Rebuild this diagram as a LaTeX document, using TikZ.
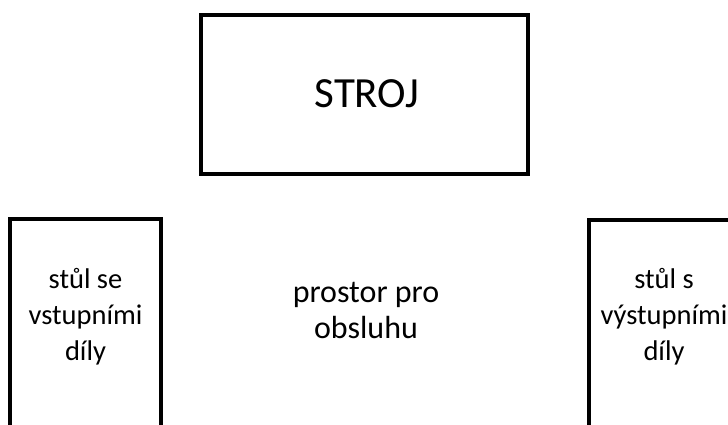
\documentclass[tikz,border=0pt]{standalone}
\usepackage{fontspec}
\setmainfont{Carlito}
\begin{document}
\begin{tikzpicture}[x=1pt,y=-1pt,
  frame/.style={draw=black,line width=3.6pt},
  small/.style={font=\fontsize{28.5}{36}\selectfont,align=center,inner sep=0pt},
  mid/.style={font=\fontsize{32}{36}\selectfont,align=center,inner sep=0pt},
  big/.style={font=\fontsize{43}{50}\selectfont,inner sep=0pt}]
\useasboundingbox (0,0) rectangle (728,425);
\clip (0,0) rectangle (728,425);
\draw[frame] (201,15) rectangle (528,174);
\node[big] (stroj) at (367,94) {STROJ};
\draw[frame] (10,440) -- (10,219) -- (161,219) -- (161,440);
\draw[frame] (589,440) -- (589,220) -- (740,220) -- (740,440);
\node[small] (vstup) at (85.5,317) {stůl se\\vstupními\\díly};
\node[small] (vystup) at (664,317) {stůl s\\výstupními\\díly};
\node[mid] (prostor) at (366,310) {prostor pro\\obsluhu};
\end{tikzpicture}
\end{document}
